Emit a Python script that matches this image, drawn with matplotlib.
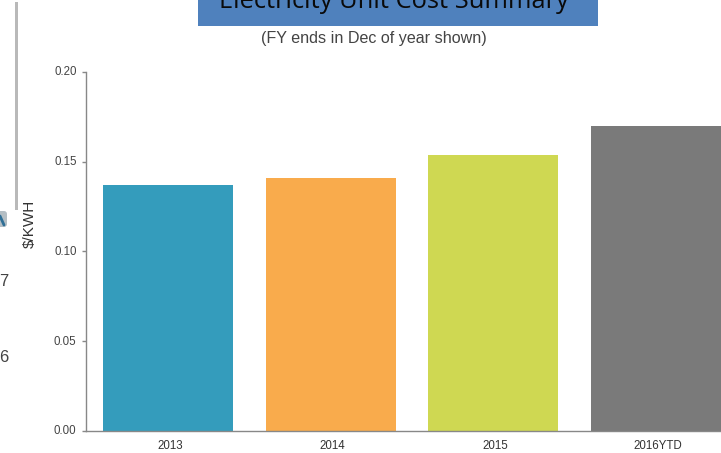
import matplotlib
matplotlib.use("Agg")
import matplotlib.pyplot as plt
from matplotlib.patches import FancyBboxPatch, Rectangle
from matplotlib.transforms import ScaledTranslation

categories = ["2013", "2014", "2015", "2016YTD"]
unit_cost = [0.137, 0.141, 0.154, 0.170]
bar_colors = ["#349cbc", "#f9ab4c", "#cfd852", "#7a7a7a"]
y_ticks = [0.00, 0.05, 0.10, 0.15, 0.20]

W, H = 721, 453
plt.rcParams['font.family'] = ['Liberation Sans', 'DejaVu Sans']

fig = plt.figure(figsize=(W / 100, H / 100), dpi=100)
ax = fig.add_axes([86 / W, 1 - 431 / H, (W - 86) / W, (431 - 72) / H])

x = range(len(categories))
ax.bar(x, unit_cost, width=0.8, color=bar_colors, zorder=2)
ax.set_xlim(-0.505, 3.4)
ax.set_ylim(0, 0.20)

ax.set_xticks(list(x))
ax.set_xticklabels(categories, fontsize=8.3, color="#333333")
ax.set_yticks(y_ticks)
ax.set_yticklabels(["%.2f" % v for v in y_ticks], fontsize=8.3, color="#444444")
ax.tick_params(axis='x', length=0, pad=7)
ax.tick_params(axis='y', length=3, width=1, color="#888888", pad=3.8)

# nudge tick labels a pixel or two
for lab in ax.get_xticklabels():
    lab.set_transform(lab.get_transform() + ScaledTranslation(2 / 100, 1 / 100, fig.dpi_scale_trans))
for lab in ax.get_yticklabels():
    lab.set_transform(lab.get_transform() + ScaledTranslation(0, 1 / 100, fig.dpi_scale_trans))

for side in ['top', 'right']:
    ax.spines[side].set_visible(False)
for side in ['left', 'bottom']:
    ax.spines[side].set_color("#888888")
    ax.spines[side].set_linewidth(1)

# banner over the chart, title runs off the top edge
overlay = fig.add_axes([0, 0, 1, 1], facecolor='none')
overlay.add_patch(Rectangle((198, -2), 400, 28, color="#4f81bd", lw=0))
overlay.text(393.5, 8, "Electricity Unit Cost Summary", fontsize=18.4, color="#0a0a0a",
             family=['Open Sans', 'DejaVu Sans'], ha='center', va='baseline')
overlay.text(374, 38.5, "(FY ends in Dec of year shown)", fontsize=11.6, color="#444444",
             ha='center', va='center')
overlay.text(30, 224, "$/KWH", fontsize=11, color="#333333", rotation=90,
             ha='center', va='center', parse_math=False)

# bits of the neighbouring slide on the left edge
overlay.add_patch(Rectangle((15, 2), 2.5, 208, color="#b9b9b9", lw=0))
overlay.add_patch(FancyBboxPatch((-4, 211), 11, 16, boxstyle="round,pad=0,rounding_size=3",
                                 color="#b4bec4", lw=0))
overlay.plot([0, 4], [216, 225], color="#2f6f96", lw=2, solid_capstyle='round')
overlay.text(-1, 281, "7", fontsize=12, color="#444444", va='center')
overlay.text(-1, 358, "6", fontsize=12, color="#444444", va='center')
overlay.set_xlim(0, W)
overlay.set_ylim(H, 0)
overlay.axis('off')

fig.savefig("out.png", dpi=100)
